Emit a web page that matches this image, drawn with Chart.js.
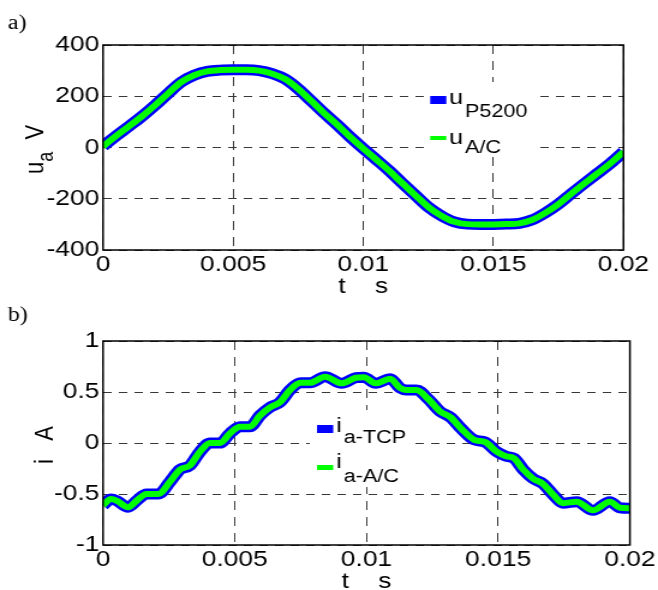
<!DOCTYPE html>
<html>
<head>
<meta charset="utf-8">
<title>u_a and i_a waveforms</title>
<script src="https://cdn.jsdelivr.net/npm/chart.js@4.4.0/dist/chart.umd.min.js"></script>
<style>
  html, body { margin: 0; padding: 0; background: #ffffff; }
  #wrap { position: relative; width: 658px; height: 590px; background: #ffffff; }
</style>
</head>
<body>
<div id="wrap">
  <canvas id="voltageChart" width="548" height="295" style="width:658px;height:295px;display:block"></canvas>
  <canvas id="currentChart" width="548" height="295" style="width:658px;height:295px;display:block"></canvas>
</div>
<script>
(function() {
  'use strict';

  // a) phase voltage, time in ms
  const voltageTimeMs = [0, 0.5, 1, 1.5, 2, 2.5, 3, 3.5, 4, 4.5,
    5, 5.5, 6, 6.5, 7, 7.5, 8, 8.5, 9, 9.5,
    10, 10.5, 11, 11.5, 12, 12.5, 13, 13.5, 14, 14.5,
    15, 15.5, 16, 16.5, 17, 17.5, 18, 18.5, 19, 19.5, 20];
  const uP5200 = [5, 45, 83, 122, 165, 211, 255, 282, 297, 302,
    303, 303, 300, 288, 267, 229, 182, 134, 89, 41,
    -4, -47, -91, -139, -186, -232, -266, -290, -299, -300,
    -300, -299, -296, -282, -255, -221, -180, -140, -101, -62, -17];
  const uAC = [4, 45, 83, 122, 165, 211, 255, 282, 297, 302,
    303, 303, 300, 288, 267, 229, 182, 134, 89, 41,
    -4, -47, -91, -139, -186, -232, -266, -290, -299, -300,
    -300, -299, -296, -282, -255, -221, -180, -140, -101, -62, -17];

  // b) phase current, time in ms
  const currentTimeMs = [0, 0.3, 0.55, 0.95, 1.3, 1.65, 2.1, 2.54, 2.92, 3.3,
    3.68, 4.06, 4.44, 4.82, 5.2, 5.58, 5.96, 6.34, 6.72, 7.1,
    7.5, 7.86, 8.43, 9.06, 9.6, 9.9, 10.35, 10.9, 11.27, 11.5,
    11.9, 12.35, 12.79, 13.2, 13.6, 14.1, 14.5, 14.94, 15.3, 15.6,
    15.95, 16.33, 16.7, 17.1, 17.47, 17.98, 18.6, 19.24, 19.62, 20];
  const iTCP = [-0.61, -0.55, -0.57, -0.63, -0.56, -0.50, -0.50, -0.38, -0.26, -0.22,
    -0.085, 0.0, 0.0, 0.095, 0.16, 0.16, 0.27, 0.35, 0.40, 0.52,
    0.59, 0.59, 0.65, 0.585, 0.64, 0.645, 0.585, 0.63, 0.54, 0.52,
    0.52, 0.43, 0.31, 0.25, 0.14, 0.03, 0.01, -0.085, -0.13, -0.15,
    -0.26, -0.35, -0.40, -0.51, -0.59, -0.575, -0.66, -0.575, -0.635, -0.64];
  const iAC = [-0.61, -0.55, -0.57, -0.63, -0.56, -0.50, -0.50, -0.38, -0.26, -0.22,
    -0.085, 0.0, 0.0, 0.095, 0.16, 0.16, 0.27, 0.35, 0.40, 0.52,
    0.59, 0.59, 0.65, 0.585, 0.64, 0.645, 0.585, 0.63, 0.54, 0.52,
    0.52, 0.43, 0.31, 0.25, 0.14, 0.03, 0.01, -0.085, -0.13, -0.15,
    -0.26, -0.35, -0.40, -0.51, -0.59, -0.575, -0.66, -0.575, -0.635, -0.64];

  const timeTicks = [0, 0.005, 0.01, 0.015, 0.02];
  const timeTickLabels = ['0', '0.005', '0.01', '0.015', '0.02'];
  const voltageTicks = [-400, -200, 0, 200, 400];
  const voltageTickLabels = ['-400', '-200', '0', '200', '400'];
  const currentTicks = [-1, -0.5, 0, 0.5, 1];
  const currentTickLabels = ['-1', '-0.5', '0', '0.5', '1'];

  const voltageLegendMain = ['u', 'u'];
  const voltageLegendSub = ['P5200', 'A/C'];
  const currentLegendMain = ['i', 'i'];
  const currentLegendSub = ['a-TCP', 'a-A/C'];

  const SANS = "'Liberation Sans', Arial, Helvetica, sans-serif";
  const SERIF = "'Liberation Serif', 'Times New Roman', serif";

  // page is stretched 658/548 horizontally (the original figure is too)
  const AXIS_W = 85.8;

  function points(times, values) {
    return times.map((t, k) => ({ x: t / 1000, y: values[k] }));
  }

  function timeScale() {
    return {
      type: 'linear',
      min: 0,
      max: 0.02,
      afterBuildTicks: s => { s.ticks = timeTicks.map(v => ({ value: v })); },
      afterFit: s => { s.height = 45; },
      grid: { color: '#383838', lineWidth: 1, drawTicks: false },
      border: { display: false, dash: [9, 7] },
      ticks: {
        color: '#000',
        font: { family: SANS, size: 22 },
        padding: 2,
        maxRotation: 0,
        autoSkip: false,
        callback: (v, i) => timeTickLabels[i]
      }
    };
  }

  function valueScale(min, max, tickValues, tickLabels) {
    return {
      type: 'linear',
      min: min,
      max: max,
      afterBuildTicks: s => { s.ticks = tickValues.map(v => ({ value: v })); },
      afterFit: s => { s.width = AXIS_W; },
      grid: { color: '#383838', lineWidth: 1, drawTicks: false },
      border: { display: false, dash: [7, 6] },
      ticks: {
        color: '#000',
        font: { family: SANS, size: 22 },
        padding: 3,
        callback: (v, i) => tickLabels[i]
      }
    };
  }

  // box, titles, panel letter and the subscript legend
  function decorPlugin(cfg) {
    return {
      id: 'decor',
      afterDatasetsDraw(chart) {
        const ctx = chart.ctx;
        const lg = cfg.legend;
        ctx.save();
        ctx.fillStyle = '#ffffff';
        ctx.fillRect(lg.box[0], lg.box[1], lg.box[2], lg.box[3]);
        lg.rows.forEach((row, k) => {
          ctx.strokeStyle = chart.data.datasets[k].borderColor;
          ctx.lineWidth = row.lw;
          ctx.beginPath();
          ctx.moveTo(lg.markX[0], row.y);
          ctx.lineTo(lg.markX[1], row.y);
          ctx.stroke();

          ctx.fillStyle = '#000';
          ctx.textAlign = 'left';
          ctx.textBaseline = 'alphabetic';
          ctx.font = '21px ' + SANS;
          ctx.fillText(cfg.legendMain[k], lg.textX, row.textY);
          const w = ctx.measureText(cfg.legendMain[k]).width;
          ctx.font = '18px ' + SANS;
          ctx.fillText(cfg.legendSub[k], lg.textX + w + 1.5, row.subY);
        });
        ctx.restore();
      },
      afterDraw(chart) {
        const ctx = chart.ctx;
        const a = chart.chartArea;
        ctx.save();

        ctx.strokeStyle = '#000';
        ctx.lineWidth = 1.5;
        ctx.strokeRect(a.left, a.top, a.right - a.left, a.bottom - a.top);

        ctx.fillStyle = '#000';
        ctx.textBaseline = 'alphabetic';

        // x title
        ctx.font = '22px ' + SANS;
        ctx.textAlign = 'center';
        ctx.fillText(cfg.xTitle, (a.left + a.right) / 2, cfg.xTitleY);

        // y title, rotated, with optional subscript parts
        ctx.textAlign = 'left';
        let total = 0;
        cfg.yTitle.forEach(p => {
          ctx.font = p.size + 'px ' + SANS;
          total += ctx.measureText(p.text).width;
        });
        ctx.translate(cfg.yTitleX, (a.top + a.bottom) / 2 + cfg.yTitleShift);
        ctx.rotate(-Math.PI / 2);
        let x = -total / 2;
        cfg.yTitle.forEach(p => {
          ctx.font = p.size + 'px ' + SANS;
          ctx.fillText(p.text, x, p.dy);
          x += ctx.measureText(p.text).width;
        });
        ctx.setTransform(1, 0, 0, 1, 0, 0);

        // panel letter
        ctx.font = '20px ' + SERIF;
        ctx.fillText(cfg.panel, 6.5, cfg.panelY);
        ctx.restore();
      }
    };
  }

  function lineSet(label, data, color, width, order) {
    return {
      label: label,
      data: data,
      borderColor: color,
      borderWidth: width,
      pointRadius: 0,
      fill: false,
      cubicInterpolationMode: 'monotone',
      borderJoinStyle: 'round',
      order: order
    };
  }

  function buildChart(id, cfg) {
    return new Chart(document.getElementById(id).getContext('2d'), {
      type: 'line',
      data: { datasets: cfg.datasets },
      options: {
        responsive: false,
        devicePixelRatio: 1,
        animation: false,
        layout: { padding: { left: 0, right: cfg.rightPad, top: cfg.topPad, bottom: 0 } },
        scales: { x: timeScale(), y: cfg.yScale },
        plugins: { legend: { display: false }, tooltip: { enabled: false } }
      },
      plugins: [decorPlugin(cfg)]
    });
  }

  buildChart('voltageChart', {
    datasets: [
      lineSet('u P5200', points(voltageTimeMs, uP5200), '#0000ff', 11, 1),
      lineSet('u A/C', points(voltageTimeMs, uAC), '#00ff00', 6, 0)
    ],
    yScale: valueScale(-400, 400, voltageTicks, voltageTickLabels),
    rightPad: 28.8,
    topPad: 45,
    xTitle: 't    s',
    xTitleY: 293,
    yTitle: [
      { text: 'u', size: 22, dy: 0 },
      { text: 'a', size: 18, dy: 8 },
      { text: '  V', size: 22, dy: 0 }
    ],
    yTitleX: 35.8,
    yTitleShift: 2,
    panel: 'a)',
    panelY: 29,
    legendMain: voltageLegendMain,
    legendSub: voltageLegendSub,
    legend: {
      box: [354, 82, 90, 73],
      markX: [358.3, 371.7],
      textX: 374,
      rows: [
        { y: 100, lw: 8, textY: 104, subY: 117 },
        { y: 138, lw: 4, textY: 144, subY: 153 }
      ]
    }
  });

  buildChart('currentChart', {
    datasets: [
      lineSet('i a-TCP', points(currentTimeMs, iTCP), '#0000ff', 11, 1),
      lineSet('i a-A/C', points(currentTimeMs, iAC), '#00ff00', 6, 0)
    ],
    yScale: valueScale(-1, 1, currentTicks, currentTickLabels),
    rightPad: 23,
    topPad: 46,
    xTitle: 't    s',
    xTitleY: 293,
    yTitle: [
      { text: 'i   A', size: 22, dy: 0 }
    ],
    yTitleX: 44.2,
    yTitleShift: 2,
    panel: 'b)',
    panelY: 26,
    legendMain: currentLegendMain,
    legendSub: currentLegendSub,
    legend: {
      box: [258, 115, 84, 77],
      markX: [264, 277.5],
      textX: 280,
      rows: [
        { y: 134, lw: 8, textY: 137, subY: 148 },
        { y: 172.5, lw: 5, textY: 173, subY: 187 }
      ]
    }
  });
})();
</script>
</body>
</html>
